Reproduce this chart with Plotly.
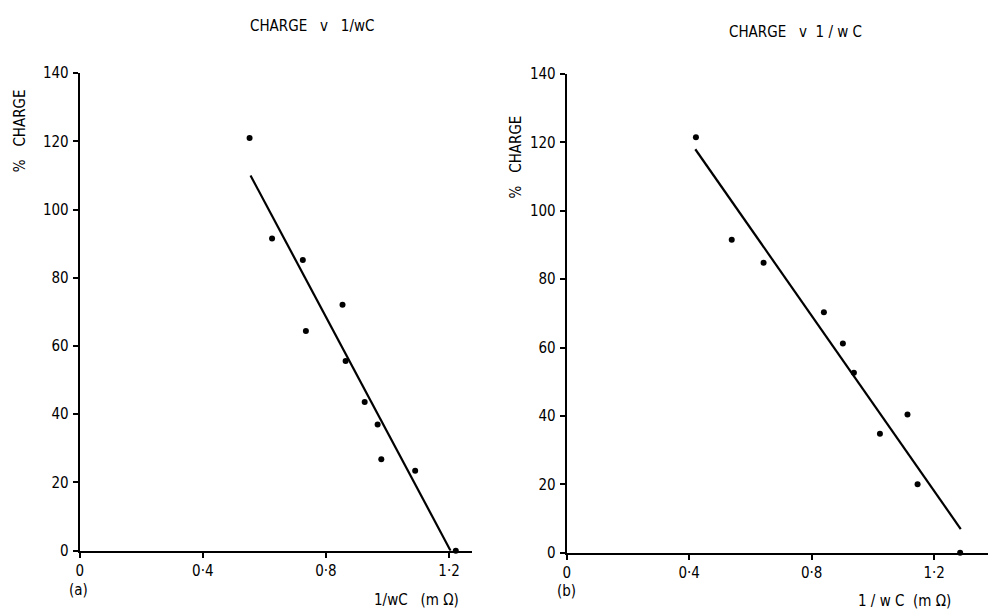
import plotly.graph_objects as go

W, H = 988, 616

# Panel (a): measured points and fitted line
a_x = [0.552, 0.625, 0.725, 0.735, 0.854, 0.864, 0.926, 0.968, 0.980, 1.090, 1.222]
a_y = [121.0, 91.5, 85.2, 64.4, 72.1, 55.6, 43.6, 37.0, 26.8, 23.4, 0.0]
a_fit_x = [0.555, 1.205]
a_fit_y = [110.0, 0.0]

# Panel (b): measured points and fitted line
b_x = [0.422, 0.539, 0.643, 0.840, 0.902, 0.938, 1.023, 1.113, 1.146, 1.285]
b_y = [121.5, 91.5, 84.8, 70.3, 61.2, 52.6, 34.8, 40.4, 20.0, 0.0]
b_fit_x = [0.420, 1.287]
b_fit_y = [118.0, 6.9]

x_tickvals = [0, 0.4, 0.8, 1.2]
x_ticktext = ["0", "0·4", "0·8", "1·2"]
y_tickvals = [0, 20, 40, 60, 80, 100, 120, 140]

FONT = "DejaVu Sans Condensed"
FS = 15


def px_x(p):
    return p / W


def px_y(p):
    return 1 - p / H


fig = go.Figure()

for xs, ys, fx, fy, xa, ya in [
    (a_x, a_y, a_fit_x, a_fit_y, "x", "y"),
    (b_x, b_y, b_fit_x, b_fit_y, "x2", "y2"),
]:
    fig.add_trace(go.Scatter(x=fx, y=fy, mode="lines",
                             line=dict(color="black", width=2.2),
                             xaxis=xa, yaxis=ya, showlegend=False,
                             cliponaxis=False))
    fig.add_trace(go.Scatter(x=xs, y=ys, mode="markers",
                             marker=dict(color="black", size=6),
                             xaxis=xa, yaxis=ya, showlegend=False,
                             cliponaxis=False))

axis_common = dict(showgrid=False, zeroline=False, showline=True,
                   linecolor="black", linewidth=2, ticks="outside",
                   ticklen=5, tickwidth=1.5, tickcolor="black",
                   tickfont=dict(family=FONT, size=FS, color="black"))

fig.update_layout(
    width=W, height=H,
    margin=dict(l=0, r=0, t=0, b=0),
    paper_bgcolor="white", plot_bgcolor="white",
    xaxis=dict(domain=[px_x(76), px_x(470)], range=[0, 1.275],
               tickvals=x_tickvals, ticktext=x_ticktext, anchor="y",
               ticklabelstandoff=0, **axis_common),
    yaxis=dict(domain=[px_y(558), px_y(66)], range=[0, 140],
               tickvals=y_tickvals, anchor="x", ticklabelstandoff=1,
               **axis_common),
    xaxis2=dict(domain=[px_x(565), px_x(988)], range=[0, 1.376],
                tickvals=x_tickvals, ticktext=x_ticktext, anchor="y2",
                ticklabelstandoff=0, **axis_common),
    yaxis2=dict(domain=[px_y(560), px_y(67)], range=[0, 140],
                tickvals=y_tickvals, anchor="x2", ticklabelstandoff=1,
                **axis_common),
)

sp = "&nbsp;"
txt = dict(family=FONT, size=FS, color="black")
annotations = [
    dict(x=px_x(309), y=px_y(18), text=f"CHARGE{sp*3}v{sp*3}1/wC"),
    dict(x=px_x(795), y=px_y(24), text=f"CHARGE{sp*3}v{sp*2}1{sp}/{sp}w{sp}C"),
    dict(x=px_x(16), y=px_y(125), text=f"%{sp*3}CHARGE", textangle=-90),
    dict(x=px_x(514), y=px_y(152), text=f"%{sp*3}CHARGE", textangle=-90),
    dict(x=px_x(75), y=px_y(599), text="(a)"),
    dict(x=px_x(565), y=px_y(600), text="(b)"),
    dict(x=px_x(414), y=px_y(609), text=f"1/wC{sp*3}(m{sp}Ω)"),
    dict(x=px_x(904), y=px_y(610), text=f"1{sp}/{sp}w{sp}C{sp*2}(m{sp}Ω)"),
]
for a in annotations:
    a.update(xref="paper", yref="paper", showarrow=False, font=txt,
             xanchor="center", yanchor="middle")
fig.update_layout(annotations=annotations)

fig.write_html("out.html")
